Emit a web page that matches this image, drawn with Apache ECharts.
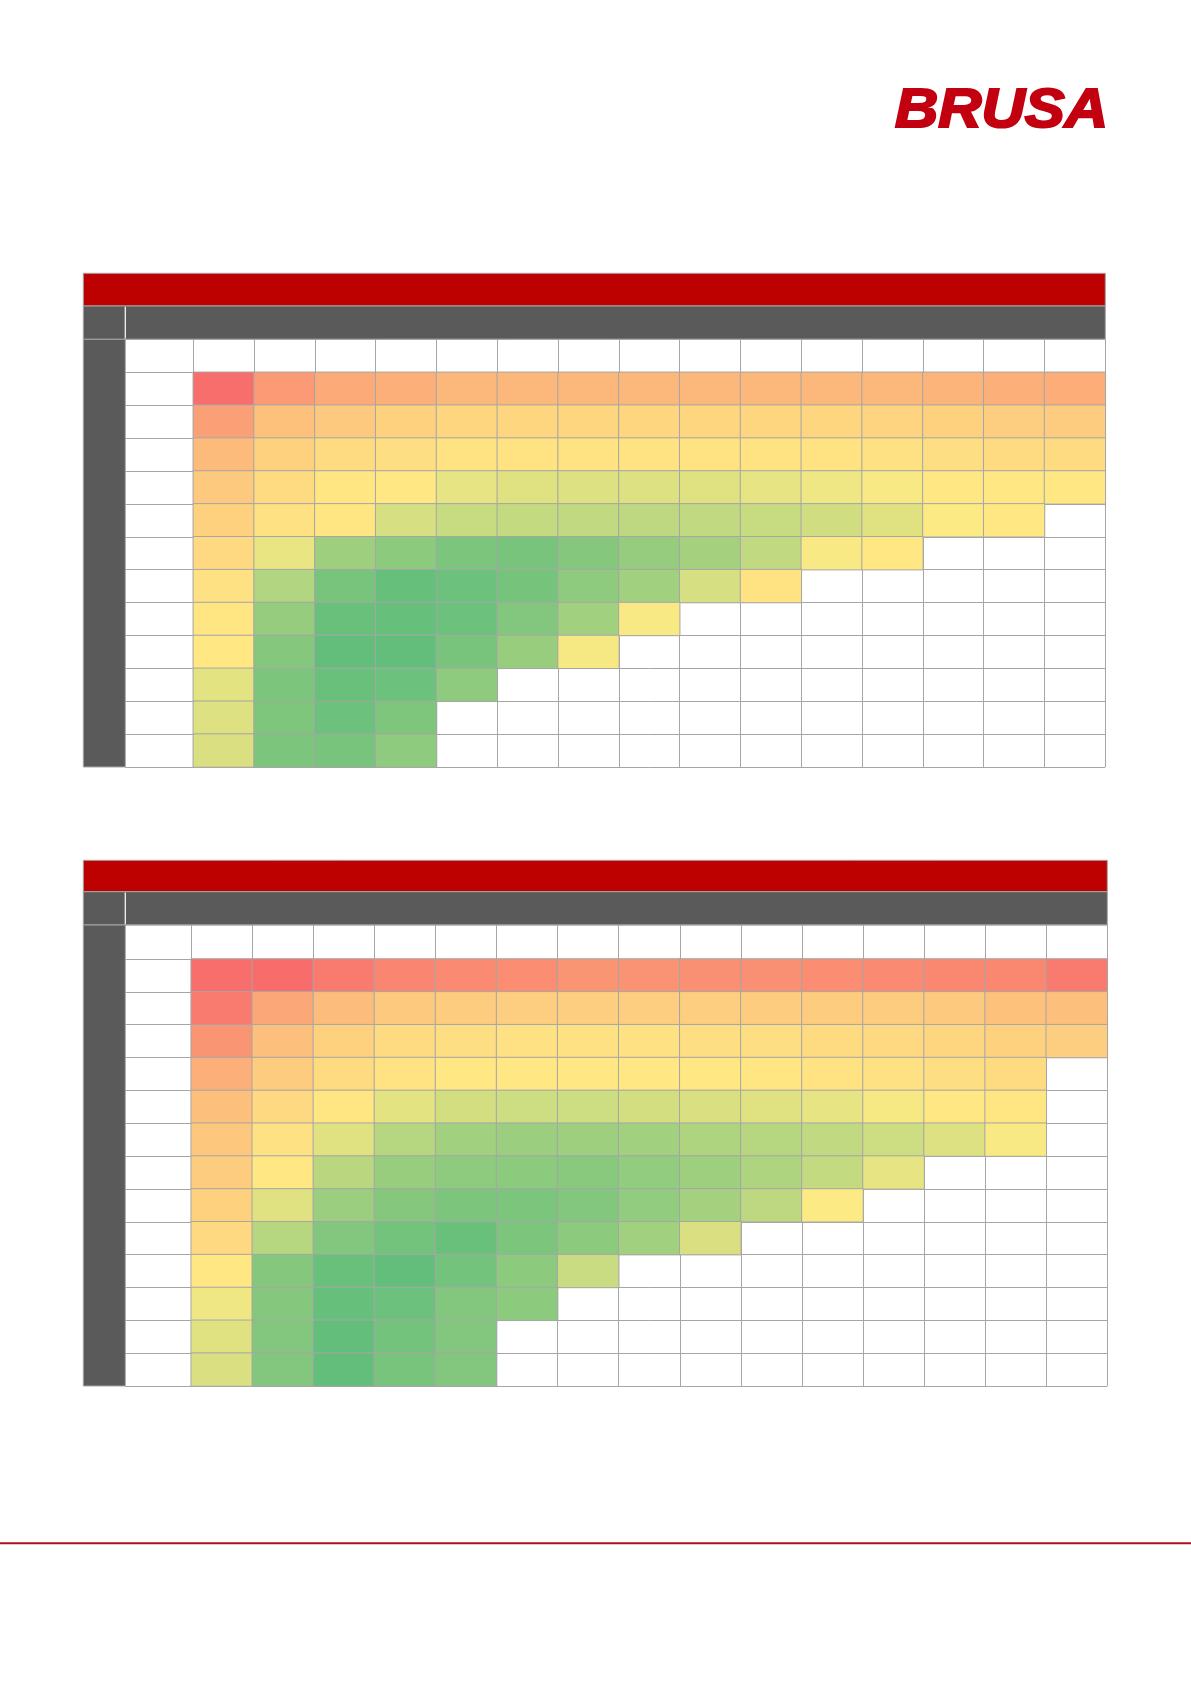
<!DOCTYPE html>
<html>
<head>
<meta charset="utf-8">
<script src="https://cdn.jsdelivr.net/npm/echarts@6/dist/echarts.min.js"></script>
<style>
html,body{margin:0;padding:0;background:#fff;}
#chart{width:1191px;height:1684px;}
</style>
</head>
<body>
<div id="chart"></div>
<script>
// ---- data (colour-scale scores, 0 = red, 50 = yellow, 100 = green; null = empty cell) ----
const columns1 = ['1','2','3','4','5','6','7','8','9','10','11','12','13','14','15'];
const rows1 = ['1','2','3','4','5','6','7','8','9','10','11','12'];
const map1 = [
  [2, 19, 25, 27, 30, 30, 30, 30, 30, 30, 30, 30, 29, 27, 26],
  [21, 34, 37, 40, 42, 42, 42, 42, 42, 42, 42, 41, 40, 39, 38],
  [31, 40, 44, 45, 47, 47, 47, 47, 47, 47, 47, 46, 45, 44, 44],
  [37, 44, 48, 49, 58, 60, 61, 61, 60, 58, 55, 52, 49, 49, 49],
  [40, 46, 48, 63, 68, 69, 70, 71, 70, 68, 65, 60, 51, 49, null],
  [43, 57, 81, 87, 92, 93, 89, 84, 79, 70, 52, 49, null, null, null],
  [46, 75, 93, 99, 97, 94, 86, 80, 63, 47, null, null, null, null, null],
  [48, 84, 98, 99, 97, 90, 80, 52, null, null, null, null, null, null, null],
  [49, 89, 100, 100, 93, 83, 53, null, null, null, null, null, null, null, null],
  [59, 92, 98, 97, 86, null, null, null, null, null, null, null, null, null, null],
  [61, 91, 97, 91, null, null, null, null, null, null, null, null, null, null, null],
  [62, 92, 93, 86, null, null, null, null, null, null, null, null, null, null, null]
];

const columns2 = ['1','2','3','4','5','6','7','8','9','10','11','12','13','14','15'];
const rows2 = ['1','2','3','4','5','6','7','8','9','10','11','12','13'];
const map2 = [
  [2, 1, 7, 11, 13, 14, 17, 16, 15, 15, 14, 13, 12, 12, 7],
  [7, 24, 32, 37, 38, 39, 39, 39, 39, 38, 38, 38, 37, 34, 33],
  [17, 33, 40, 44, 45, 46, 46, 46, 45, 45, 44, 43, 42, 40, 39],
  [27, 38, 44, 47, 49, 49, 49, 49, 49, 48, 47, 46, 45, 44, null],
  [33, 43, 48, 59, 64, 66, 66, 64, 62, 60, 58, 53, 49, 48, null],
  [36, 46, 60, 73, 80, 82, 81, 80, 76, 73, 70, 66, 61, 52, null],
  [38, 49, 72, 83, 86, 87, 88, 85, 81, 76, 69, 58, null, null, null],
  [40, 60, 82, 89, 92, 92, 90, 85, 79, 71, 51, null, null, null, null],
  [43, 73, 90, 95, 98, 92, 87, 80, 62, null, null, null, null, null, null],
  [49, 89, 98, 100, 95, 87, 67, null, null, null, null, null, null, null, null],
  [55, 89, 99, 97, 90, 87, null, null, null, null, null, null, null, null, null],
  [60, 90, 100, 95, 90, null, null, null, null, null, null, null, null, null, null],
  [62, 90, 100, 93, 90, null, null, null, null, null, null, null, null, null, null]
];

// ---- build ----
function toCells(m) {
  const out = [];
  m.forEach((row, r) => row.forEach((v, c) => { if (v !== null) out.push([c, r, v]); }));
  return out;
}
const LINE = '#a6a6a6';
const RED = '#bd0000';
const DARK = '#5a5a5a';

function xAxisFor(gi, cats, headerH) {
  return {
    type: 'category', gridIndex: gi, data: cats, position: 'top',
    axisLine: { show: true, lineStyle: { color: LINE, width: 1 } },
    axisTick: { show: true, length: headerH, interval: 0, lineStyle: { color: LINE, width: 1 } },
    axisLabel: { show: false, interval: 0 },
    splitLine: { show: true, interval: 0, lineStyle: { color: LINE, width: 1 } }
  };
}
function yAxisFor(gi, cats, labelW) {
  return {
    type: 'category', gridIndex: gi, data: cats, inverse: true,
    axisLine: { show: true, lineStyle: { color: LINE, width: 1 } },
    axisTick: { show: true, length: labelW, interval: 0, lineStyle: { color: LINE, width: 1 } },
    axisLabel: { show: false, interval: 0 },
    splitLine: { show: true, interval: 0, lineStyle: { color: LINE, width: 1 } }
  };
}
function chrome(x0, x1, yRed, yGray, yHead, yBottom, xLabel) {
  return [
    { type: 'rect', shape: { x: x0, y: yRed, width: x1 - x0, height: yGray - yRed },
      style: { fill: RED, stroke: LINE, lineWidth: 1 }, z: 1 },
    { type: 'rect', shape: { x: x0, y: yGray, width: xLabel - x0, height: yHead - yGray },
      style: { fill: DARK, stroke: LINE, lineWidth: 1 }, z: 1 },
    { type: 'rect', shape: { x: xLabel, y: yGray, width: x1 - xLabel, height: yHead - yGray },
      style: { fill: DARK, stroke: LINE, lineWidth: 1 }, z: 1 },
    { type: 'line', shape: { x1: xLabel, y1: yGray + 1, x2: xLabel, y2: yHead - 1 },
      style: { stroke: '#ffffff', lineWidth: 1 }, z: 2 },
    { type: 'rect', shape: { x: x0, y: yHead, width: xLabel - x0, height: yBottom - yHead },
      style: { fill: DARK, stroke: LINE, lineWidth: 1 }, z: 1 },
    { type: 'line', shape: { x1: xLabel, y1: yHead, x2: x1, y2: yHead },
      style: { stroke: LINE, lineWidth: 1 }, z: 2 }
  ];
}

const chart = echarts.init(document.getElementById('chart'), null, { renderer: 'canvas' });
chart.setOption({
  backgroundColor: '#ffffff',
  animation: false,
  grid: [
    { left: 193.3, top: 372.3, width: 912, height: 394.7 },
    { left: 191.2, top: 959, width: 916.1, height: 427 }
  ],
  xAxis: [ xAxisFor(0, columns1, 33), xAxisFor(1, columns2, 34) ],
  yAxis: [ yAxisFor(0, rows1, 68), yAxisFor(1, rows2, 66) ],
  visualMap: [{
    type: 'continuous', show: false, min: 0, max: 100, seriesIndex: [0, 1],
    inRange: { color: ['#F8696B', '#FFEB84', '#63BE7B'] }
  }],
  series: [
    { type: 'heatmap', xAxisIndex: 0, yAxisIndex: 0, data: toCells(map1),
      itemStyle: { borderColor: LINE, borderWidth: 1 }, emphasis: { disabled: true }, progressive: 0 },
    { type: 'heatmap', xAxisIndex: 1, yAxisIndex: 1, data: toCells(map2),
      itemStyle: { borderColor: LINE, borderWidth: 1 }, emphasis: { disabled: true }, progressive: 0 }
  ],
  graphic: [
    { type: 'text', x: 895, y: 84, scaleX: 1.07, scaleY: 1.0,
      style: { text: 'BRUSA', fill: '#c3000f', stroke: '#c3000f', lineWidth: 2.2,
               font: 'italic bold 56px "Liberation Sans", Arial, sans-serif', verticalAlign: 'top' }, z: 5 }
  ].concat(
    chrome(83.3, 1105.3, 273.3, 306, 339.3, 767, 125.3),
    chrome(83.3, 1107.3, 860.3, 891.7, 925, 1386, 125.3),
    [{ type: 'rect', shape: { x: 0, y: 1542.3, width: 1191, height: 2 }, style: { fill: '#a8121c' }, z: 1 }]
  )
});
</script>
</body>
</html>
